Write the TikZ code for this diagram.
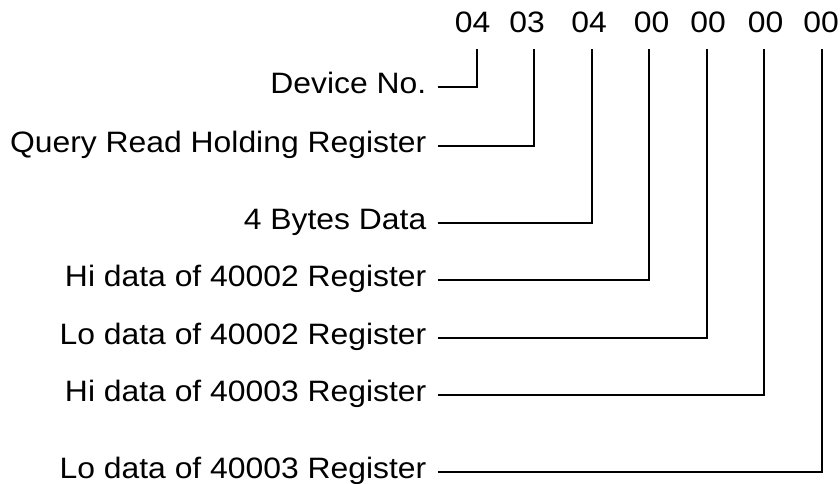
\documentclass[tikz,border=0pt]{standalone}
\usepackage{fontspec}
\setmainfont{Liberation Sans}[FakeStretch=1.08]
\begin{document}
\begin{tikzpicture}[x=1pt,y=-1pt,
  lab/.style={anchor=base east,inner sep=0pt,font=\fontsize{29.5}{34}\selectfont},
  hex/.style={anchor=base,inner sep=0pt,font=\fontsize{29.5}{34}\selectfont},
  conn/.style={line width=2pt,line join=miter,black}]
\useasboundingbox (0,0) rectangle (840,484);
% hex bytes
\node[hex] (h1) at (472.5,32.3) {04};
\node[hex] (h2) at (527,32.3) {03};
\node[hex] (h3) at (589,32.3) {04};
\node[hex] (h4) at (651.5,32.3) {00};
\node[hex] (h5) at (708,32.3) {00};
\node[hex] (h6) at (765.5,32.3) {00};
\node[hex] (h7) at (821,32.3) {00};
% labels (baseline 6.5 below the connector)
\node[lab] (l1) at (426.5,94) {Device No.};
\node[lab] (l2) at (426.5,152) {Query Read Holding Register};
\node[lab] (l3) at (426.5,229.5) {4 Bytes Data};
\node[lab] (l4) at (426.5,286.5) {Hi data of 40002 Register};
\node[lab] (l5) at (426.5,344) {Lo data of 40002 Register};
\node[lab] (l6) at (426.5,401.5) {Hi data of 40003 Register};
\node[lab] (l7) at (426.5,478) {Lo data of 40003 Register};
% connector ends under the bytes
\coordinate (t1) at (476.7,49.3);
\coordinate (t2) at (533.5,49.3);
\coordinate (t3) at (591.7,49.3);
\coordinate (t4) at (649.3,49.3);
\coordinate (t5) at (706.7,49.3);
\coordinate (t6) at (764.3,49.3);
\coordinate (t7) at (822.3,49.3);
\foreach \i in {1,...,7}{
  \draw[conn] ([xshift=11.2pt,yshift=6.5pt]l\i.base east) -| (t\i);
}
\end{tikzpicture}
\end{document}
